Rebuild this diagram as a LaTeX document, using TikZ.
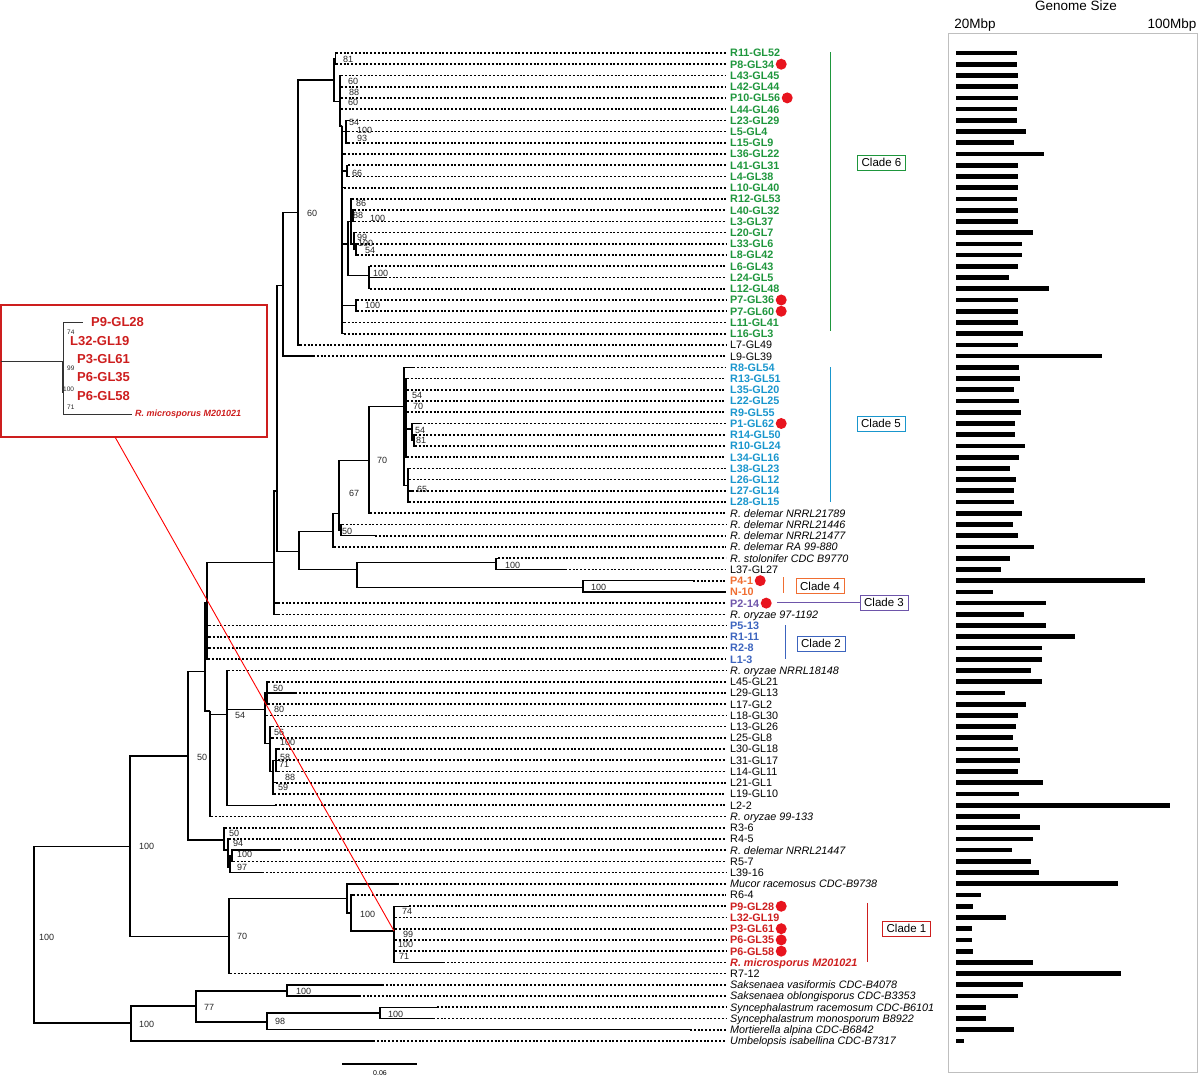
\documentclass[tikz,border=0pt]{standalone}
\usepackage{fontspec}
\setmainfont{Liberation Sans}
\definecolor{cgreen}{RGB}{30,150,60}
\definecolor{cblue}{RGB}{25,150,205}
\definecolor{corange}{RGB}{240,110,50}
\definecolor{cpurple}{RGB}{110,85,170}
\definecolor{cblue2}{RGB}{60,100,190}
\definecolor{cred}{RGB}{205,30,30}
\definecolor{dotred}{RGB}{232,20,30}
\newcommand\lfs{\fontsize{10.8}{12}\selectfont}
\newcommand\bsz{\fontsize{9}{10}\selectfont}
\tikzset{
 brl/.style={line width=1.4pt, black},
 dt/.style={line width=1.7pt, dash pattern=on 2pt off 1.8pt},
 leaf/.style={anchor=west, inner sep=0pt, text height=7.8pt, text depth=0pt, font=\lfs},
 bk/.style={},
 cg/.style={text=cgreen, font=\lfs\bfseries},
 cb/.style={text=cblue, font=\lfs\bfseries},
 co/.style={text=corange, font=\lfs\bfseries},
 cp/.style={text=cpurple, font=\lfs\bfseries},
 cbb/.style={text=cblue2, font=\lfs\bfseries},
 cr/.style={text=cred, font=\lfs\bfseries},
 crs/.style={text=cred, font=\lfs\bfseries\itshape},
 sp/.style={font=\lfs\itshape},
 bs/.style={anchor=west, inner sep=0pt, font=\bsz, text=black!85},
 cbox/.style={draw, line width=0.9pt, inner sep=0pt, minimum width=48pt, minimum height=15pt, font=\fontsize{11.5}{12}\selectfont},
 ibs/.style={anchor=west, inner sep=0pt, font=\fontsize{6.5}{7}\selectfont, text=black!85},
 ilf/.style={anchor=west, inner sep=0pt, text=cred, font=\fontsize{13}{14}\selectfont\bfseries},
}
\newcommand\lf[4]{\coordinate (l#1) at (#2,#1);
 \node[leaf,#3] (t#1) at (730,#1) {#4};
 \draw[dt] (l#1) -- ([xshift=-4pt]t#1.west);}
\newcommand\tb[2]{\foreach \kid in {#2}{\draw[brl] (#1) |- (\kid);}}
\newcommand\bsl[4]{\node[bs] (#1) at (#2,#3) {#4};}
\newcommand\rdot[1]{\fill[dotred] ([xshift=7pt]t#1.east) circle (5.5pt);}
\begin{document}
\begin{tikzpicture}[x=1pt,y=-11.227pt]
\useasboundingbox (0,-3.7208) rectangle (1200,92.1196);
% leaves
\lf{1}{336}{cg}{R11-GL52}
\lf{2}{336}{cg}{P8-GL34}
\lf{3}{341}{cg}{L43-GL45}
\lf{4}{341}{cg}{L42-GL44}
\lf{5}{341}{cg}{P10-GL56}
\lf{6}{341}{cg}{L44-GL46}
\lf{7}{348}{cg}{L23-GL29}
\lf{8}{348}{cg}{L5-GL4}
\lf{9}{348}{cg}{L15-GL9}
\lf{10}{344}{cg}{L36-GL22}
\lf{11}{348}{cg}{L41-GL31}
\lf{12}{348}{cg}{L4-GL38}
\lf{13}{344}{cg}{L10-GL40}
\lf{14}{352}{cg}{R12-GL53}
\lf{15}{354}{cg}{L40-GL32}
\lf{16}{354}{cg}{L3-GL37}
\lf{17}{355}{cg}{L20-GL7}
\lf{18}{357}{cg}{L33-GL6}
\lf{19}{357}{cg}{L8-GL42}
\lf{20}{370}{cg}{L6-GL43}
\lf{21}{385}{cg}{L24-GL5}
\lf{22}{370}{cg}{L12-GL48}
\lf{23}{357}{cg}{P7-GL36}
\lf{24}{357}{cg}{P7-GL60}
\lf{25}{344}{cg}{L11-GL41}
\lf{26}{344}{cg}{L16-GL3}
\lf{27}{300}{bk}{L7-GL49}
\lf{28}{313}{bk}{L9-GL39}
\lf{29}{413}{cb}{R8-GL54}
\lf{30}{407}{cb}{R13-GL51}
\lf{31}{407}{cb}{L35-GL20}
\lf{32}{407}{cb}{L22-GL25}
\lf{33}{407}{cb}{R9-GL55}
\lf{34}{420}{cb}{P1-GL62}
\lf{35}{415}{cb}{R14-GL50}
\lf{36}{415}{cb}{R10-GL24}
\lf{37}{407}{cb}{L34-GL16}
\lf{38}{409}{cb}{L38-GL23}
\lf{39}{409}{cb}{L26-GL12}
\lf{40}{412}{cb}{L27-GL14}
\lf{41}{409}{cb}{L28-GL15}
\lf{42}{370}{sp}{R. delemar NRRL21789}
\lf{43}{342}{sp}{R. delemar NRRL21446}
\lf{44}{375}{sp}{R. delemar NRRL21477}
\lf{45}{334}{sp}{R. delemar RA 99-880}
\lf{46}{498}{sp}{R. stolonifer CDC B9770}
\lf{47}{565}{bk}{L37-GL27}
\lf{48}{693}{co}{P4-1}
\lf{49}{724}{co}{N-10}
\lf{50}{278}{cp}{P2-14}
\lf{51}{278}{sp}{R. oryzae 97-1192}
\lf{52}{209}{cbb}{P5-13}
\lf{53}{209}{cbb}{R1-11}
\lf{54}{209}{cbb}{R2-8}
\lf{55}{208}{cbb}{L1-3}
\lf{56}{228}{sp}{R. oryzae NRRL18148}
\lf{57}{268}{bk}{L45-GL21}
\lf{58}{295}{bk}{L29-GL13}
\lf{59}{268}{bk}{L17-GL2}
\lf{60}{266}{bk}{L18-GL30}
\lf{61}{272}{bk}{L13-GL26}
\lf{62}{272}{bk}{L25-GL8}
\lf{63}{278}{bk}{L30-GL18}
\lf{64}{278}{bk}{L31-GL17}
\lf{65}{278}{bk}{L14-GL11}
\lf{66}{276}{bk}{L21-GL1}
\lf{67}{274}{bk}{L19-GL10}
\lf{68}{275}{bk}{L2-2}
\lf{69}{211}{sp}{R. oryzae 99-133}
\lf{70}{225}{bk}{R3-6}
\lf{71}{229}{bk}{R4-5}
\lf{72}{279}{sp}{R. delemar NRRL21447}
\lf{73}{233}{bk}{R5-7}
\lf{74}{262}{bk}{L39-16}
\lf{75}{397}{sp}{Mucor racemosus CDC-B9738}
\lf{76}{353}{bk}{R6-4}
\lf{77}{409}{cr}{P9-GL28}
\lf{78}{395}{cr}{L32-GL19}
\lf{79}{395}{cr}{P3-GL61}
\lf{80}{395}{cr}{P6-GL35}
\lf{81}{395}{cr}{P6-GL58}
\lf{82}{443}{crs}{R. microsporus M201021}
\lf{83}{230}{bk}{R7-12}
\lf{84}{382}{sp}{Saksenaea vasiformis CDC-B4078}
\lf{85}{359}{sp}{Saksenaea oblongisporus CDC-B3353}
\lf{86}{437}{sp}{Syncephalastrum racemosum CDC-B6101}
\lf{87}{433}{sp}{Syncephalastrum monosporum B8922}
\lf{88}{690}{sp}{Mortierella alpina CDC-B6842}
\lf{89}{373}{sp}{Umbelopsis isabellina CDC-B7317}
% internal nodes
\coordinate (c6) at (334,3.4);
\coordinate (p81) at (335.5,1.5);
\coordinate (c6B) at (340,5.3);
\coordinate (c6D) at (342,7.5);
\coordinate (c6E) at (346,8);
\coordinate (c6F) at (347,11.5);
\coordinate (c6GH) at (348,18);
\coordinate (c6G) at (351,16);
\coordinate (c6G2) at (353,15.5);
\coordinate (c6G3) at (354,18);
\coordinate (c6G4) at (356,18.5);
\coordinate (c6H) at (369,20.8);
\coordinate (c6I) at (356,23.5);
\coordinate (n60) at (298,15.2);
\coordinate (nB0) at (283,21.7);
\coordinate (nR2) at (277,40);
\coordinate (nS) at (299,45.4);
\coordinate (nD) at (333,43.6);
\coordinate (n67) at (339,42);
\coordinate (n50d) at (341,43.5);
\coordinate (n70) at (369,37.3);
\coordinate (c5) at (404,32.5);
\coordinate (c5a) at (406,33.5);
\coordinate (c5c) at (412,34.5);
\coordinate (c5d) at (414,35.5);
\coordinate (c5b) at (408,39.5);
\coordinate (nSt) at (357,47);
\coordinate (n100a) at (496,46.4);
\coordinate (n100b) at (583,48.6);
\coordinate (nR) at (274,46.4);
\coordinate (nV) at (207,50);
\coordinate (nU) at (205,56.1);
\coordinate (n50c) at (210,59.6);
\coordinate (n54) at (227,59.9);
\coordinate (n80) at (265,59.5);
\coordinate (n50x) at (267,58);
\coordinate (n56) at (270,62.5);
\coordinate (nL) at (273,65);
\coordinate (nL2) at (276,64);
\coordinate (n50) at (188,63.6);
\coordinate (nLow) at (224,71.1);
\coordinate (n94) at (228,72);
\coordinate (n97) at (230,73.5);
\coordinate (n100c) at (232,72.5);
\coordinate (ntop) at (130,71.7);
\coordinate (n70b) at (229,79.7);
\coordinate (nM) at (347,76.3);
\coordinate (nM2) at (351,77.6);
\coordinate (c1) at (394,79.2);
\coordinate (root) at (34,79.8);
\coordinate (nbot) at (131,87.4);
\coordinate (n77) at (196,85.9);
\coordinate (nSak) at (287,84.55);
\coordinate (n98) at (267,87.3);
\coordinate (nSyn) at (380,86.5);
% edges
\tb{c6}{p81,c6B}
\tb{p81}{l1,l2}
\tb{c6B}{l3,l4,l5,l6,c6D}
\tb{c6D}{c6E,l10,c6F,l13,c6GH,c6I,l25,l26}
\tb{c6E}{l7,l8,l9}
\tb{c6F}{l11,l12}
\tb{c6GH}{c6G,c6H}
\tb{c6G}{l14,c6G2,c6G3}
\tb{c6G2}{l15,l16}
\tb{c6G3}{l17,c6G4}
\tb{c6G4}{l18,l19}
\tb{c6H}{l20,l21,l22}
\tb{c6I}{l23,l24}
\tb{n60}{c6,l27}
\tb{nB0}{n60,l28}
\tb{nR2}{nB0,nS}
\tb{nS}{nD,nSt}
\tb{nD}{n67,l45}
\tb{n67}{n70,n50d}
\tb{n50d}{l43,l44}
\tb{n70}{c5,l42}
\tb{c5}{l29,c5a,c5b}
\tb{c5a}{l30,l31,l32,l33,c5c,l37}
\tb{c5c}{l34,c5d}
\tb{c5d}{l35,l36}
\tb{c5b}{l38,l39,l40,l41}
\tb{nSt}{n100a,n100b}
\tb{n100a}{l46,l47}
\tb{n100b}{l48,l49}
\tb{nR}{nR2,l50,l51}
\tb{nV}{nR,l52,l53,l54,l55}
\tb{nU}{nV,n50c}
\tb{n50c}{n54,l69}
\tb{n54}{l56,n80,l68}
\tb{n80}{n50x,l60,n56}
\tb{n50x}{l57,l58,l59}
\tb{n56}{l61,l62,nL}
\tb{nL}{nL2,l66,l67}
\tb{nL2}{l63,l64,l65}
\tb{n50}{nU,nLow}
\tb{nLow}{l70,n94}
\tb{n94}{l71,n97}
\tb{n97}{n100c,l74}
\tb{n100c}{l72,l73}
\tb{ntop}{n50,n70b}
\tb{n70b}{nM,l83}
\tb{nM}{l75,nM2}
\tb{nM2}{l76,c1}
\tb{c1}{l77,l78,l79,l80,l81,l82}
\tb{root}{ntop,nbot}
\tb{nbot}{n77,l89}
\tb{n77}{nSak,n98}
\tb{nSak}{l84,l85}
\tb{n98}{nSyn,l88}
\tb{nSyn}{l86,l87}
% bootstrap values
\bsl{b1}{343}{1.53}{81}
\bsl{b2}{348}{3.5}{60}
\bsl{b3}{349}{4.5}{88}
\bsl{b4}{348}{5.4}{60}
\bsl{b5}{349}{7.2}{54}
\bsl{b6}{357}{7.85}{100}
\bsl{b7}{357}{8.65}{93}
\bsl{b8}{352}{11.7}{66}
\bsl{b9}{356}{14.4}{86}
\bsl{b10}{353}{15.5}{88}
\bsl{b11}{370}{15.7}{100}
\bsl{b12}{357}{17.4}{99}
\bsl{b13}{358}{18}{100}
\bsl{b14}{365}{18.6}{54}
\bsl{b15}{373}{20.6}{100}
\bsl{b16}{365}{23.5}{100}
\bsl{b17}{307}{15.25}{60}
\bsl{b18}{412}{31.5}{54}
\bsl{b19}{413}{32.5}{70}
\bsl{b20}{415}{34.6}{54}
\bsl{b21}{416}{35.5}{81}
\bsl{b22}{417}{39.9}{65}
\bsl{b23}{377}{37.3}{70}
\bsl{b24}{349}{40.2}{67}
\bsl{b25}{342}{43.6}{50}
\bsl{b26}{505}{46.6}{100}
\bsl{b27}{591}{48.6}{100}
\bsl{b28}{273}{57.6}{50}
\bsl{b29}{274}{59.5}{80}
\bsl{b30}{235}{60}{54}
\bsl{b31}{197}{63.7}{50}
\bsl{b32}{274}{61.5}{56}
\bsl{b33}{280}{62.4}{100}
\bsl{b34}{280}{63.7}{58}
\bsl{b35}{279}{64.4}{71}
\bsl{b36}{285}{65.5}{88}
\bsl{b37}{278}{66.4}{59}
\bsl{b38}{229}{70.5}{50}
\bsl{b39}{233}{71.4}{94}
\bsl{b40}{237}{72.4}{100}
\bsl{b41}{237}{73.5}{97}
\bsl{b42}{139}{71.7}{100}
\bsl{b43}{237}{79.7}{70}
\bsl{b44}{360}{77.7}{100}
\bsl{b45}{402}{77.5}{74}
\bsl{b46}{403}{79.5}{99}
\bsl{b47}{398}{80.4}{100}
\bsl{b48}{399}{81.5}{71}
\bsl{b49}{39}{79.8}{100}
\bsl{b50}{139}{87.5}{100}
\bsl{b51}{204}{86}{77}
\bsl{b52}{296}{84.6}{100}
\bsl{b53}{275}{87.3}{98}
\bsl{b54}{388}{86.6}{100}
% red dots
\rdot{2}\rdot{5}\rdot{23}\rdot{24}\rdot{34}\rdot{48}\rdot{50}\rdot{77}\rdot{79}\rdot{80}\rdot{81}
% clade markers
\draw[cgreen, line width=1pt] (830.5,0.95) -- (830.5,25.75);
\node[cbox, draw=cgreen] (k6) at (881.5,10.75) {Clade 6};
\draw[cblue, line width=1pt] (830.5,29) -- (830.5,41);
\node[cbox, draw=cblue] (k5) at (881,34) {Clade 5};
\draw[corange, line width=1pt] (783,47.7) -- (783,49.1);
\node[cbox, draw=corange] (k4) at (820,48.5) {Clade 4};
\node[cbox, draw=cpurple] (k3) at (884,49.94) {Clade 3};
\draw[cpurple, line width=1pt] (777,49.94) -- (k3.west);
\draw[cblue2, line width=1pt] (785,51.95) -- (785,55.0);
\node[cbox, draw=cblue2] (k2) at (821,53.6) {Clade 2};
\draw[cred, line width=1pt] (867,76.7) -- (867,82);
\node[cbox, draw=cred] (k1) at (906.5,78.98) {Clade 1};
% inset
\node[draw=cred, line width=1.3pt, minimum width=266pt, minimum height=132pt, inner sep=0pt] (inset) at (134,29.33) {};
\coordinate (iroot) at (1,28.52);
\coordinate (inode) at (63,28.52);
\coordinate (ip9) at (83,24.96);
\coordinate (imic) at (132,33.16);
\draw[line width=1pt, black!80] (iroot) -- (inode);
\draw[line width=1pt, black!80] (inode) |- (ip9);
\draw[line width=1pt, black!80] (inode) |- (imic);
\draw[line width=2pt, black!80] (63,28.4) -- (63,31.3);
\node[ilf] (i1) at (91,24.96) {P9-GL28};
\node[ilf] (i2) at (70,26.65) {L32-GL19};
\node[ilf] (i3) at (77,28.26) {P3-GL61};
\node[ilf] (i4) at (77,29.86) {P6-GL35};
\node[ilf] (i5) at (77,31.55) {P6-GL58};
\node[anchor=west, inner sep=0pt, text=cred, font=\fontsize{9}{10}\selectfont\bfseries\itshape] (i6) at (135,33.16) {R. microsporus M201021};
\node[ibs] (ib1) at (67,25.85) {74};
\node[ibs] (ib2) at (67,29.06) {99};
\node[ibs] (ib3) at (63,30.93) {100};
\node[ibs] (ib4) at (67,32.53) {71};
\coordinate (insA) at (115,35.2);
\draw[red, line width=0.9pt] (insA) -- (c1);
% genome size panel
\draw[black!25, line width=0.8pt] (948,-0.78) rectangle (1197,91.76);
\node[font=\fontsize{13.5}{14}\selectfont] (gs) at (1076,-3.19) {Genome Size};
\node[font=\fontsize{13.5}{14}\selectfont] (g20) at (975,-1.49) {20Mbp};
\node[font=\fontsize{13.5}{14}\selectfont] (g100) at (1172,-1.49) {100Mbp};
\foreach \rw/\en in {1/1017,2/1017,3/1018,4/1018,5/1018,6/1017,7/1017,8/1026,9/1014,10/1044,11/1018,12/1018,13/1018,14/1017,15/1018,16/1018,17/1033,18/1022,19/1022,20/1018,21/1009,22/1049,23/1018,24/1018,25/1018,26/1023,27/1018,28/1102,29/1019,30/1020,31/1014,32/1019,33/1021,34/1015,35/1015,36/1025,37/1019,38/1010,39/1016,40/1014,41/1014,42/1022,43/1013,44/1018,45/1034,46/1010,47/1001,48/1145,49/993,50/1046,51/1024,52/1046,53/1075,54/1042,55/1042,56/1031,57/1042,58/1005,59/1026,60/1018,61/1016,62/1013,63/1018,64/1020,65/1018,66/1043,67/1019,68/1170,69/1020,70/1040,71/1033,72/1012,73/1031,74/1039,75/1118,76/981,77/973,78/1006,79/972,80/972,81/973,82/1033,83/1121,84/1023,85/1018,86/986,87/986,88/1014,89/964}
 {\fill (956,\rw-0.21) rectangle (\en,\rw+0.21);}
% scale bar
\coordinate (sb1) at (342,91.05);
\coordinate (sb2) at (417,91.05);
\draw[line width=1.3pt] (sb1) -- (sb2);
\node[font=\fontsize{7}{8}\selectfont] (sbt) at (380,91.85) {0.06};
\end{tikzpicture}
\end{document}
